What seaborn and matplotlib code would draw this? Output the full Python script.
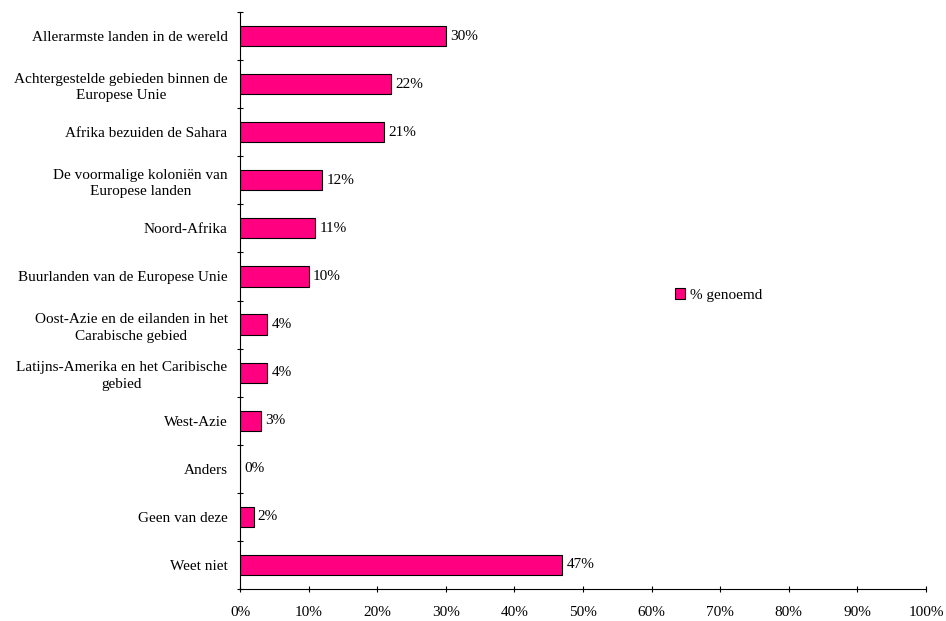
import matplotlib
matplotlib.use('Agg')
import matplotlib.pyplot as plt
import seaborn as sns
import pandas as pd
import numpy as np
from matplotlib.ticker import FixedLocator, PercentFormatter

categories = [
    'Allerarmste landen in de wereld',
    'Achtergestelde gebieden binnen de\nEuropese Unie',
    'Afrika bezuiden de Sahara',
    'De voormalige koloniën van\nEuropese landen',
    'Noord-Afrika',
    'Buurlanden van de Europese Unie',
    'Oost-Azie en de eilanden in het\nCarabische gebied',
    'Latijns-Amerika en het Caribische\ngebied',
    'West-Azie',
    'Anders',
    'Geen van deze',
    'Weet niet',
]
values = [30, 22, 21, 12, 11, 10, 4, 4, 3, 0, 2, 47]
series_name = '% genoemd'

df = pd.DataFrame({'categorie': categories, 'waarde': values})

sns.set_style('white', {'text.color': 'black', 'xtick.color': 'black',
                        'ytick.color': 'black', 'axes.labelcolor': 'black'})
plt.rcParams['font.family'] = ['Liberation Serif', 'DejaVu Serif']
fs = 11

fig = plt.figure(figsize=(9.46, 6.21), dpi=100)
ax = fig.add_axes([240 / 946, 1 - 589 / 621, 686 / 946, 577 / 621])

sns.barplot(data=df, y='categorie', x='waarde', orient='h', color='#FF0080',
            edgecolor='black', linewidth=0.8, width=0.42, saturation=1,
            label=series_name, ax=ax)

# value labels next to the bars
for i, v in enumerate(values):
    ax.text(v + 0.6, i, f'{v}%', va='center', ha='left', fontsize=fs, color='black')

ax.set_xlim(0, 100)
ax.set_ylim(len(categories) - 0.5, -0.5)
ax.set_xticks(np.arange(0, 101, 10))
ax.xaxis.set_major_formatter(PercentFormatter(decimals=0))
ax.tick_params(axis='x', bottom=True, direction='inout', length=5, width=0.8,
               labelsize=fs, pad=10, colors='black')

# category ticks sit on the boundaries between bars
ax.yaxis.set_minor_locator(FixedLocator(np.arange(-0.5, len(categories), 1)))
ax.tick_params(axis='y', which='major', left=False, length=0, labelsize=fs, pad=9,
               colors='black')
ax.tick_params(axis='y', which='minor', left=True, direction='inout', length=5,
               width=0.8, colors='black')
for lbl in ax.get_yticklabels():
    lbl.set_multialignment('center')
    lbl.set_linespacing(1.35)

for side in ['top', 'right']:
    ax.spines[side].set_visible(False)
for side in ['left', 'bottom']:
    ax.spines[side].set_color('black')
    ax.spines[side].set_linewidth(0.8)

ax.set_xlabel('')
ax.set_ylabel('')
if ax.legend_:
    ax.legend_.remove()

handles, labels = ax.get_legend_handles_labels()
fig.legend(handles[:1], labels[:1], loc='center left',
           bbox_to_anchor=(661 / 946, 1 - 295 / 621), frameon=False,
           fontsize=fs, handlelength=0.7, handleheight=0.7, handletextpad=0.3,
           labelcolor='black')

fig.savefig('out.png', dpi=100, facecolor='white')
